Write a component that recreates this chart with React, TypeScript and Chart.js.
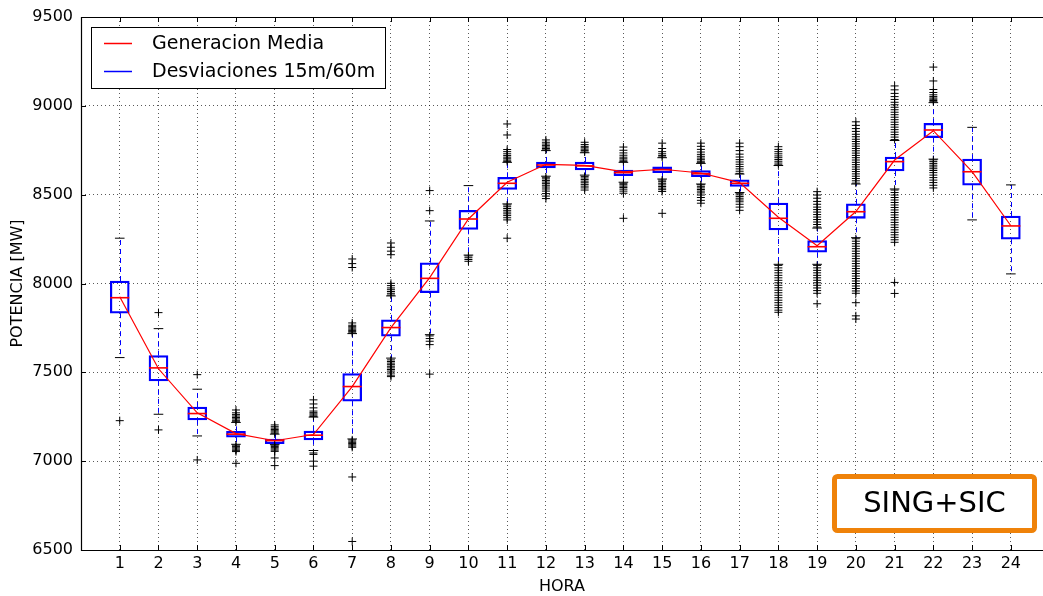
import React, { useEffect, useRef } from "react";
import { Chart, registerables } from "chart.js";

Chart.register(...registerables);

const HOURS = [1, 2, 3, 4, 5, 6, 7, 8, 9, 10, 11, 12, 13, 14, 15, 16, 17, 18, 19, 20, 21, 22, 23, 24];
const MEAN = [7925, 7520, 7272, 7155, 7115, 7150, 7420, 7752, 8033, 8363, 8570, 8671, 8665, 8628, 8643, 8622, 8568, 8373, 8213, 8405, 8695, 8860, 8630, 8325];
const Q1 = [7833, 7452, 7232, 7135, 7099, 7120, 7337, 7703, 7949, 8305, 8530, 8650, 8639, 8607, 8624, 8601, 8547, 8301, 8176, 8367, 8633, 8821, 8553, 8249];
const MEDIAN = [7920, 7525, 7268, 7152, 7116, 7146, 7420, 7752, 8029, 8363, 8564, 8667, 8662, 8624, 8641, 8618, 8564, 8367, 8207, 8404, 8686, 8864, 8629, 8324];
const Q3 = [8014, 7594, 7305, 7168, 7124, 7170, 7493, 7795, 8117, 8412, 8598, 8684, 8684, 8639, 8656, 8635, 8583, 8452, 8241, 8448, 8712, 8902, 8700, 8380];
const WHISKER_LO = [7583, 7264, 7142, 7095, 7093, 7060, 7125, 7580, 7712, 8160, 8448, 8604, 8610, 8570, 8588, 8560, 8512, 8108, 8108, 8258, 8532, 8700, 8358, 8054];
const WHISKER_HI = [8255, 7746, 7405, 7218, 7152, 7248, 7718, 7930, 8352, 8551, 8682, 8748, 8736, 8682, 8708, 8676, 8616, 8664, 8312, 8560, 8805, 9018, 8879, 8555];
const OUTLIERS: number[][] = [
  [7228],
  [7836, 7176],
  [7487, 7007],
  [7222, 7230, 7238, 7246, 7254, 7262, 7272, 7288, 7090, 7082, 7075, 7068, 7061, 7054, 6988],
  [7157, 7164, 7171, 7178, 7186, 7194, 7204, 7090, 7083, 7076, 7069, 7062, 7055, 7018, 6975],
  [7252, 7259, 7266, 7273, 7282, 7300, 7322, 7345, 7046, 7038, 7000, 6972],
  [7722, 7729, 7736, 7743, 7750, 7757, 7765, 7778, 8090, 8112, 8138, 7120, 7113, 7106, 7099, 7092, 7085, 7078, 6911, 6548],
  [7935, 7945, 7955, 7965, 7975, 7988, 8001, 8162, 8182, 8204, 8228, 7570, 7561, 7552, 7543, 7534, 7525, 7516, 7507, 7496, 7484, 7476],
  [8410, 8523, 7705, 7690, 7675, 7656, 7490],
  [8155, 8145, 8135, 8125],
  [8686, 8694, 8702, 8711, 8720, 8730, 8742, 8754, 8836, 8898, 8442, 8432, 8422, 8412, 8402, 8392, 8382, 8370, 8358, 8255],
  [8752, 8760, 8768, 8776, 8785, 8795, 8808, 8598, 8589, 8580, 8571, 8562, 8553, 8543, 8532, 8520, 8506, 8492, 8478],
  [8740, 8748, 8756, 8764, 8772, 8782, 8795, 8603, 8594, 8585, 8576, 8567, 8558, 8548, 8538, 8526],
  [8686, 8694, 8702, 8711, 8722, 8735, 8750, 8768, 8564, 8556, 8548, 8540, 8531, 8520, 8508, 8367],
  [8712, 8720, 8730, 8742, 8760, 8790, 8582, 8573, 8564, 8555, 8546, 8537, 8528, 8518, 8395],
  [8680, 8688, 8697, 8706, 8716, 8727, 8740, 8755, 8772, 8790, 8556, 8547, 8538, 8529, 8520, 8510, 8498, 8484, 8468, 8452],
  [8620, 8632, 8645, 8658, 8671, 8684, 8697, 8712, 8728, 8748, 8770, 8790, 8508, 8499, 8490, 8480, 8470, 8460, 8446, 8430, 8412],
  [8668, 8678, 8688, 8698, 8708, 8718, 8730, 8742, 8755, 8770, 8102, 8088, 8074, 8060, 8046, 8032, 8018, 8004, 7990, 7976, 7962, 7948, 7934, 7920, 7906, 7892, 7878, 7864, 7850, 7838],
  [8318, 8332, 8346, 8360, 8374, 8388, 8402, 8416, 8430, 8446, 8462, 8480, 8498, 8517, 8102, 8088, 8074, 8060, 8046, 8032, 8018, 8004, 7990, 7975, 7960, 7945, 7886],
  [8565, 8578, 8591, 8604, 8617, 8630, 8643, 8656, 8669, 8682, 8695, 8708, 8721, 8734, 8747, 8760, 8773, 8786, 8799, 8812, 8826, 8840, 8856, 8872, 8890, 8910, 8252, 8238, 8224, 8210, 8196, 8182, 8168, 8154, 8140, 8126, 8112, 8098, 8084, 8070, 8056, 8042, 8028, 8014, 8000, 7986, 7972, 7958, 7945, 7892, 7818, 7800],
  [8810, 8824, 8838, 8852, 8866, 8880, 8894, 8908, 8922, 8936, 8950, 8964, 8978, 8992, 9006, 9020, 9036, 9052, 9070, 9090, 9112, 8526, 8512, 8498, 8484, 8470, 8456, 8442, 8428, 8414, 8400, 8386, 8372, 8358, 8344, 8330, 8316, 8302, 8288, 8274, 8260, 8246, 8232, 8006, 7944],
  [9023, 9030, 9037, 9044, 9052, 9062, 9075, 9092, 9140, 9218, 8696, 8686, 8676, 8666, 8656, 8646, 8636, 8624, 8610, 8596, 8582, 8568, 8553, 8538],
  [],
  [],
];
const Y_TICKS = [6500, 7000, 7500, 8000, 8500, 9000, 9500];
const MEAN_LABEL = "Generacion Media";
const BOX_LABEL = "Desviaciones 15m/60m";
const X_TITLE = "HORA";
const Y_TITLE = "POTENCIA [MW]";
const TAG_TEXT = "SING+SIC";

const FONT = "'DejaVu Sans', 'Liberation Sans', sans-serif";
const RED = "#ff0000";
const BLUE = "#0000ff";
const ORANGE = "#ef8209";

const whiskerPlugin = {
  id: "whiskers",
  beforeDatasetsDraw(chart: any) {
    const { ctx, scales } = chart;
    const xs = scales.x;
    const ys = scales.y;
    ctx.save();
    ctx.strokeStyle = BLUE;
    ctx.lineWidth = 1;
    ctx.setLineDash([5, 4]);
    HOURS.forEach((h, i) => {
      const x = Math.round(xs.getPixelForValue(h)) + 0.5;
      ctx.beginPath();
      ctx.moveTo(x, ys.getPixelForValue(Q3[i]));
      ctx.lineTo(x, ys.getPixelForValue(WHISKER_HI[i]));
      ctx.moveTo(x, ys.getPixelForValue(Q1[i]));
      ctx.lineTo(x, ys.getPixelForValue(WHISKER_LO[i]));
      ctx.stroke();
    });
    ctx.restore();
  },
};

const decorPlugin = {
  id: "decor",
  afterDraw(chart: any) {
    const { ctx, chartArea, scales } = chart;
    const { left, top, right, bottom } = chartArea;
    const xs = scales.x;
    const ys = scales.y;
    ctx.save();
    // frame
    ctx.strokeStyle = "#000";
    ctx.lineWidth = 1.2;
    ctx.setLineDash([]);
    ctx.beginPath();
    ctx.moveTo(right + 2, Math.round(top) + 0.5);
    ctx.lineTo(Math.round(left) + 0.5, Math.round(top) + 0.5);
    ctx.lineTo(Math.round(left) + 0.5, Math.round(bottom) + 0.5);
    ctx.lineTo(right + 2, Math.round(bottom) + 0.5);
    ctx.stroke();
    // inward ticks
    ctx.lineWidth = 1;
    ctx.beginPath();
    HOURS.forEach((h) => {
      const x = Math.round(xs.getPixelForValue(h)) + 0.5;
      ctx.moveTo(x, bottom);
      ctx.lineTo(x, bottom - 5);
      ctx.moveTo(x, top);
      ctx.lineTo(x, top + 5);
    });
    Y_TICKS.forEach((v) => {
      const y = Math.round(ys.getPixelForValue(v)) + 0.5;
      ctx.moveTo(left, y);
      ctx.lineTo(left + 5, y);
    });
    ctx.stroke();

    // legend
    const lx = 91.5, ly = 27.5, lw = 294, lh = 61;
    ctx.fillStyle = "#fff";
    ctx.fillRect(lx, ly, lw, lh);
    ctx.strokeStyle = "#000";
    ctx.lineWidth = 1;
    ctx.strokeRect(lx, ly, lw, lh);
    const entries = [
      { label: chart.data.datasets[0].label, color: RED, y: 43.5 },
      { label: chart.data.datasets[1].label, color: BLUE, y: 71.5 },
    ];
    ctx.font = `19px ${FONT}`;
    ctx.textBaseline = "middle";
    ctx.textAlign = "left";
    entries.forEach((e) => {
      ctx.beginPath();
      ctx.strokeStyle = e.color;
      ctx.lineWidth = 1.5;
      ctx.moveTo(104, e.y);
      ctx.lineTo(132, e.y);
      ctx.stroke();
      ctx.fillStyle = "#000";
      ctx.fillText(e.label, 152, e.y + 1);
    });

    // tag box
    const bx = 834.5, by = 476.5, bw = 200, bh = 54, r = 3;
    ctx.fillStyle = "#fff";
    ctx.strokeStyle = ORANGE;
    ctx.lineWidth = 5;
    ctx.beginPath();
    ctx.moveTo(bx + r, by);
    ctx.lineTo(bx + bw - r, by);
    ctx.arcTo(bx + bw, by, bx + bw, by + r, r);
    ctx.lineTo(bx + bw, by + bh - r);
    ctx.arcTo(bx + bw, by + bh, bx + bw - r, by + bh, r);
    ctx.lineTo(bx + r, by + bh);
    ctx.arcTo(bx, by + bh, bx, by + bh - r, r);
    ctx.lineTo(bx, by + r);
    ctx.arcTo(bx, by, bx + r, by, r);
    ctx.closePath();
    ctx.fill();
    ctx.stroke();
    ctx.fillStyle = "#000";
    ctx.font = `29px ${FONT}`;
    ctx.textAlign = "center";
    ctx.textBaseline = "middle";
    ctx.fillText(TAG_TEXT, bx + bw / 2, by + bh / 2 + 1);
    ctx.restore();
  },
};

export default function App() {
  const ref = useRef<HTMLCanvasElement | null>(null);

  useEffect(() => {
    if (!ref.current) return;
    const boxData = HOURS.map((h, i) => ({ x: h, y: [Q1[i], Q3[i]] }));
    const medianData = HOURS.map((h, i) => ({ x: h, y: MEDIAN[i] }));
    const capData: { x: number; y: number }[] = [];
    HOURS.forEach((h, i) => {
      capData.push({ x: h, y: WHISKER_LO[i] });
      capData.push({ x: h, y: WHISKER_HI[i] });
    });
    const outlierData: { x: number; y: number }[] = [];
    HOURS.forEach((h, i) => {
      OUTLIERS[i].forEach((v) => outlierData.push({ x: h, y: v }));
    });
    const meanData = HOURS.map((h, i) => ({ x: h, y: MEAN[i] }));

    const chart = new Chart(ref.current, {
      type: "bar",
      data: {
        datasets: [
          {
            type: "line",
            label: MEAN_LABEL,
            data: meanData,
            borderColor: RED,
            borderWidth: 1.2,
            pointRadius: 0,
            tension: 0,
            order: 0,
          } as any,
          {
            type: "bar",
            label: BOX_LABEL,
            data: boxData,
            backgroundColor: "rgba(0,0,0,0)",
            borderColor: BLUE,
            borderWidth: 1.6,
            borderSkipped: false,
            barThickness: 19,
            order: 4,
          } as any,
          {
            type: "scatter",
            label: "median",
            data: medianData,
            pointStyle: "line",
            pointRadius: 9.5,
            borderColor: RED,
            backgroundColor: RED,
            borderWidth: 1.6,
            order: 2,
          } as any,
          {
            type: "scatter",
            label: "caps",
            data: capData,
            pointStyle: "line",
            pointRadius: 4.8,
            borderColor: "#000",
            backgroundColor: "#000",
            borderWidth: 1,
            order: 3,
          } as any,
          {
            type: "scatter",
            label: "fliers",
            data: outlierData,
            pointStyle: "cross",
            pointRadius: 4,
            borderColor: "#000",
            backgroundColor: "#000",
            borderWidth: 1,
            order: 1,
          } as any,
        ],
      },
      options: {
        responsive: false,
        animation: false,
        events: [],
        layout: { autoPadding: false, padding: { top: 17, right: 0, left: 0, bottom: 0 } },
        plugins: {
          legend: { display: false },
          tooltip: { enabled: false },
        },
        scales: {
          x: {
            type: "linear",
            min: 0,
            max: 24.83,
            offset: false,
            afterBuildTicks: (axis: any) => {
              axis.ticks = HOURS.map((v) => ({ value: v }));
            },
            afterFit: (axis: any) => {
              axis.height = 46;
              axis.paddingLeft = 0;
              axis.paddingRight = 0;
            },
            ticks: {
              callback: (v: any) => String(v),
              color: "#000",
              font: { family: FONT, size: 16 },
              padding: 4,
              maxRotation: 0,
              autoSkip: false,
            },
            grid: { color: "rgba(0,0,0,0.65)", lineWidth: 1, drawTicks: false, offset: false },
            border: { display: false, dash: [1, 3] },
            title: {
              display: true,
              text: X_TITLE,
              color: "#000",
              font: { family: FONT, size: 16 },
              padding: { top: 0, bottom: 0 },
            },
          },
          y: {
            type: "linear",
            min: 6500,
            max: 9500,
            afterBuildTicks: (axis: any) => {
              axis.ticks = Y_TICKS.map((v) => ({ value: v }));
            },
            afterFit: (axis: any) => {
              axis.width = 81;
              axis.paddingTop = 0;
              axis.paddingBottom = 0;
            },
            ticks: {
              callback: (v: any) => String(v),
              color: "#000",
              font: { family: FONT, size: 16 },
              padding: 8,
            },
            grid: { color: "rgba(0,0,0,0.65)", lineWidth: 1, drawTicks: false },
            border: { display: false, dash: [1, 3] },
            title: {
              display: true,
              text: Y_TITLE,
              color: "#000",
              font: { family: FONT, size: 16 },
              padding: { top: 8, bottom: 0 },
            },
          },
        },
      } as any,
      plugins: [whiskerPlugin, decorPlugin],
    });
    return () => chart.destroy();
  }, []);

  return (
    <div style={{ position: "fixed", left: 0, top: 0, width: 1043, height: 596, overflow: "hidden", background: "#fff" }}>
      <canvas ref={ref} width={1043} height={596} style={{ display: "block" }} />
    </div>
  );
}
